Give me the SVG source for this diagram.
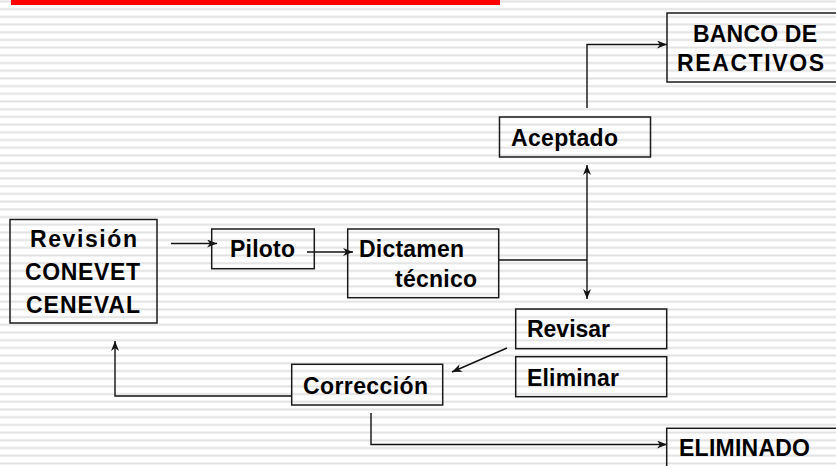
<svg xmlns="http://www.w3.org/2000/svg" width="836" height="466" viewBox="0 0 836 466">
<style>
.box{fill:none;stroke:#1a1a1a;stroke-width:1.5}
.t{font-family:"Liberation Sans",Arial,sans-serif;font-weight:bold;font-size:23px;fill:#000}
.c{fill:none;stroke:#111;stroke-width:1.4}
</style>
<defs>
<pattern id="stripes" patternUnits="userSpaceOnUse" x="0" y="0" width="836" height="7.7">
<rect x="0" y="0" width="836" height="7.7" fill="#ffffff"/>
<rect x="0" y="0.2" width="836" height="2.4" fill="#ececec"/>
<rect x="0" y="0.9" width="836" height="1" fill="#e0e0e0"/>
</pattern>
<marker id="ah" markerUnits="userSpaceOnUse" markerWidth="12" markerHeight="10" refX="10" refY="4" orient="auto-start-reverse">
<path d="M0,0 L10,4 L0,8 L3,4 z" fill="#111"/>
</marker>
</defs>
<rect x="0" y="0" width="836" height="466" fill="url(#stripes)"/>
<rect x="11" y="0" width="489" height="5" fill="#ff0000"/>

<g id="connectors">
<line class="c" x1="171" y1="243.5" x2="217" y2="243.5" marker-end="url(#ah)"/>
<line class="c" x1="307" y1="252" x2="353" y2="252" marker-end="url(#ah)"/>
<line class="c" x1="499" y1="260" x2="587" y2="260"/>
<line class="c" x1="587" y1="165" x2="587" y2="299" marker-start="url(#ah)" marker-end="url(#ah)"/>
<polyline class="c" points="587,108 587,44.5 667,44.5" marker-end="url(#ah)"/>
<line class="c" x1="507" y1="348" x2="452" y2="372" marker-end="url(#ah)"/>
<polyline class="c" points="292,396 115,396 115,341" marker-end="url(#ah)"/>
<polyline class="c" points="371,413 371,444.5 667,444.5" marker-end="url(#ah)"/>
</g>

<g id="banco">
<rect class="box" x="667" y="13" width="175" height="69"/>
<text class="t" x="693" y="42" textLength="124" lengthAdjust="spacing">BANCO DE</text>
<text class="t" x="677" y="71" textLength="147" lengthAdjust="spacing">REACTIVOS</text>
</g>
<g id="aceptado">
<rect class="box" x="499.5" y="117" width="151" height="40"/>
<text class="t" x="511" y="146" textLength="107" lengthAdjust="spacing">Aceptado</text>
</g>
<g id="revision">
<rect class="box" x="10" y="219.5" width="147" height="103.5"/>
<text class="t" x="30" y="247" textLength="107" lengthAdjust="spacing">Revisión</text>
<text class="t" x="25" y="280" textLength="115" lengthAdjust="spacing">CONEVET</text>
<text class="t" x="26" y="313" textLength="114" lengthAdjust="spacing">CENEVAL</text>
</g>
<g id="piloto">
<rect class="box" x="211.7" y="229" width="102.6" height="39.7"/>
<text class="t" x="230" y="257" textLength="65" lengthAdjust="spacing">Piloto</text>
</g>
<g id="dictamen">
<rect class="box" x="347.7" y="229" width="151" height="68.7"/>
<text class="t" x="359" y="257" textLength="105" lengthAdjust="spacing">Dictamen</text>
<text class="t" x="395" y="287" textLength="82" lengthAdjust="spacing">técnico</text>
</g>
<g id="revisar">
<rect class="box" x="515.7" y="309" width="151" height="39.7"/>
<text class="t" x="527" y="337" textLength="83" lengthAdjust="spacing">Revisar</text>
</g>
<g id="eliminar">
<rect class="box" x="515.7" y="356.7" width="151" height="40"/>
<text class="t" x="527" y="386" textLength="92" lengthAdjust="spacing">Eliminar</text>
</g>
<g id="correccion">
<rect class="box" x="291.7" y="364.3" width="151" height="40.7"/>
<text class="t" x="303" y="394" textLength="125" lengthAdjust="spacing">Corrección</text>
</g>
<g id="eliminado">
<rect class="box" x="666.7" y="428.3" width="180" height="50"/>
<text class="t" x="679" y="456" textLength="131" lengthAdjust="spacing">ELIMINADO</text>
</g>
</svg>
